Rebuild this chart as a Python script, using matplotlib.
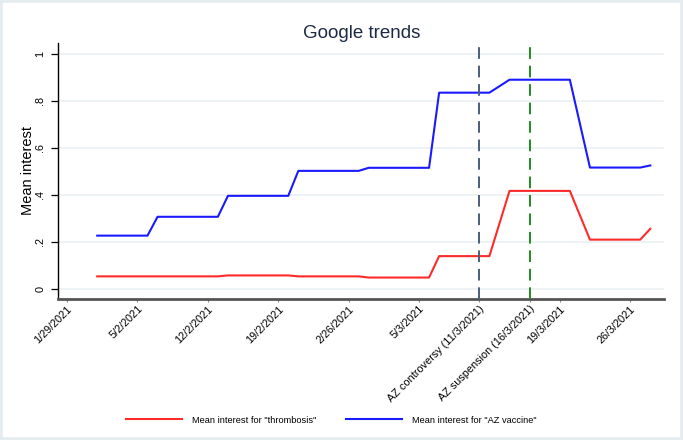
import pandas as pd
import matplotlib.pyplot as plt
from matplotlib.patches import Rectangle

plt.rcParams['font.family'] = ['Liberation Sans', 'DejaVu Sans']

# change points
az_dates = ['2021-02-01', '2021-02-06', '2021-02-07', '2021-02-13', '2021-02-14',
            '2021-02-20', '2021-02-21', '2021-02-27', '2021-02-28', '2021-03-06',
            '2021-03-07', '2021-03-12', '2021-03-14', '2021-03-20', '2021-03-22',
            '2021-03-27', '2021-03-28']
az_vals = [.227, .227, .307, .307, .396, .396, .502, .502, .515, .515,
           .834, .834, .889, .889, .516, .516, .525]

thr_dates = ['2021-02-01', '2021-02-13', '2021-02-14', '2021-02-20', '2021-02-21',
             '2021-02-27', '2021-02-28', '2021-03-06', '2021-03-07', '2021-03-12',
             '2021-03-14', '2021-03-20', '2021-03-22', '2021-03-27', '2021-03-28']
thr_vals = [.054, .054, .058, .058, .054, .054, .049, .049, .14, .14,
            .417, .417, .21, .21, .256]

tick_dates = ['2021-01-29', '2021-02-05', '2021-02-12', '2021-02-19', '2021-02-26',
              '2021-03-05', '2021-03-11', '2021-03-16', '2021-03-19', '2021-03-26']
tick_labels = ['1/29/2021', '5/2/2021', '12/2/2021', '19/2/2021', '2/26/2021',
               '5/3/2021', 'AZ controversy (11/3/2021)', 'AZ suspension (16/3/2021)',
               '19/3/2021', '26/3/2021']
events = {'2021-03-11': '#4a5d7e', '2021-03-16': '#1e8c1e'}

y_ticks = [0, .2, .4, .6, .8, 1]
y_labels = ['0', '.2', '.4', '.6', '.8', '1']

fig = plt.figure(figsize=(6.83, 4.40), dpi=100)
fig.patches.append(Rectangle((0, 0), 1, 1, transform=fig.transFigure, fill=False,
                             edgecolor='#e4ecf0', linewidth=4))
ax = fig.add_axes([0.0849, 0.3205, 0.8871, 0.5818])

for y in y_ticks:
    ax.axhline(y, color='#eaf1f3', lw=1.2, zorder=0)

ax.plot(pd.to_datetime(thr_dates), thr_vals, color='#ff2a2a', lw=1.5,
        label='Mean interest for "thrombosis"')
ax.plot(pd.to_datetime(az_dates), az_vals, color='#1a1aff', lw=1.5,
        label='Mean interest for "AZ vaccine"')

for d, c in events.items():
    ax.axvline(pd.Timestamp(d), color=c, lw=1.4, ls=(0, (6, 3.5)), zorder=3)

start = pd.Timestamp('2021-01-29')
ax.set_xlim(start - pd.Timedelta(days=0.9), start + pd.Timedelta(days=59.35))
ax.set_ylim(-0.042, 1.045)

ax.set_xticks(pd.to_datetime(tick_dates))
ax.set_xticklabels(tick_labels, rotation=45, ha='right', rotation_mode='anchor',
                   fontsize=7.8)
ax.set_yticks(y_ticks)
ax.set_yticklabels(y_labels, rotation=90, va='center', fontsize=7.8)
ax.tick_params(axis='x', length=2, color='#888888', pad=1.5)
ax.tick_params(axis='y', length=5, width=0.9, pad=4)

ax.spines['top'].set_visible(False)
ax.spines['right'].set_visible(False)
ax.spines['left'].set_linewidth(1.0)
ax.spines['bottom'].set_linewidth(2.0)
ax.spines['bottom'].set_color('#555555')

ax.set_ylabel('Mean interest', fontsize=10.5, labelpad=0)
fig.text(0.53, 0.925, 'Google trends', ha='center', va='center', fontsize=13.5,
         color='#1c2b44')

fig.legend(loc='center', bbox_to_anchor=(0.485, 0.045), ncol=2, frameon=False,
           fontsize=6.7, handlelength=6.0, handletextpad=1.1, columnspacing=3.2)

fig.savefig('out.png', dpi=100)
